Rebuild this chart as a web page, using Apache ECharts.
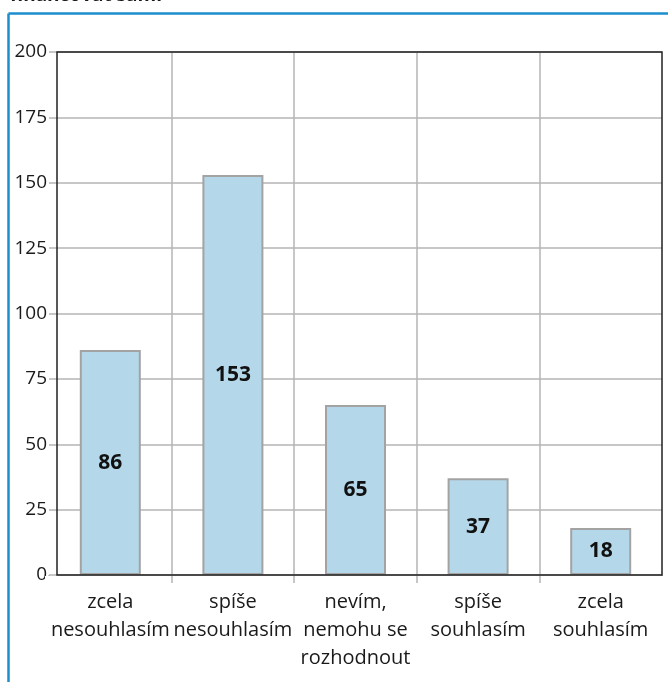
<!DOCTYPE html>
<html>
<head>
<meta charset="utf-8">
<script src="https://cdn.jsdelivr.net/npm/echarts@6/dist/echarts.min.js"></script>
<style>
html,body{margin:0;padding:0;background:#fff;}
#chart{width:668px;height:682px;}
</style>
</head>
<body>
<div id="chart"></div>
<script>
var categories = ['zcela\nnesouhlasím', 'spíše\nnesouhlasím', 'nevím,\nnemohu se\nrozhodnout', 'spíše\nsouhlasím', 'zcela\nsouhlasím'];
var values = [86, 153, 65, 37, 18];
var yTicks = [0, 25, 50, 75, 100, 125, 150, 175, 200];
var titleText = 'financovat sami';

var FONT = '"Open Sans", "Noto Sans", sans-serif';
var gridLeft = 49, gridRight = 6, gridTop = 52, gridBottom = 107;
var frameLeft = 57;
var frameRight = 668 - gridRight;
var frameBottom = 682 - gridBottom;

var chart = echarts.init(document.getElementById('chart'));
var option = {
  animation: false,
  backgroundColor: '#ffffff',
  grid: { left: gridLeft, right: gridRight, top: gridTop, bottom: gridBottom, containLabel: false },
  xAxis: {
    type: 'category',
    data: categories,
    boundaryGap: true,
    axisLine: { show: false },
    axisTick: { show: true, length: 8, lineStyle: { color: '#b5b5b5', width: 1.5 } },
    splitLine: { show: true, showMinLine: false, showMaxLine: false, lineStyle: { color: '#b5b5b5', width: 1.5 } },
    axisLabel: { fontFamily: FONT, fontSize: 20, lineHeight: 28, color: '#1a1a1a', margin: 13, interval: 0 }
  },
  yAxis: {
    type: 'value',
    min: yTicks[0],
    max: yTicks[yTicks.length - 1],
    interval: 25,
    axisLine: { show: false },
    axisTick: { show: false },
    splitLine: { show: true, lineStyle: { color: '#b5b5b5', width: 1.5 } },
    axisLabel: { fontFamily: FONT, fontSize: 19, color: '#1a1a1a', margin: 2 }
  },
  series: [{
    type: 'bar',
    data: values,
    barWidth: 61,
    itemStyle: { color: '#b4d8e9', borderColor: '#a3a3a3', borderWidth: 2 },
    label: {
      show: true,
      position: 'inside',
      fontFamily: FONT,
      fontSize: 21,
      fontWeight: 'bold',
      color: '#111111'
    },
    z: 3
  }],
  graphic: [
    // hide the outer end ticks of the category axis (reference has none there)
    { type: 'rect', shape: { x: gridLeft - 4, y: frameBottom + 1, width: frameLeft - gridLeft + 2, height: 10 }, style: { fill: '#ffffff' }, z: 9, silent: true },
    { type: 'rect', shape: { x: frameRight - 3, y: frameBottom + 1, width: gridRight + 6, height: 10 }, style: { fill: '#ffffff' }, z: 9, silent: true },
    { type: 'rect', shape: { x: frameLeft, y: gridTop, width: frameRight - frameLeft, height: frameBottom - gridTop },
      style: { fill: 'none', stroke: '#222222', lineWidth: 1.5 }, z: 10, silent: true },
    { type: 'line', shape: { x1: 8.5, y1: 13.5, x2: 668, y2: 13.5 }, style: { stroke: '#1b8fcc', lineWidth: 2.5 }, z: 10 },
    { type: 'line', shape: { x1: 8.5, y1: 13.5, x2: 8.5, y2: 682 }, style: { stroke: '#1b8fcc', lineWidth: 2.5 }, z: 10 },
    { type: 'text', x: 10, y: 5, style: { text: titleText, font: 'bold 19px ' + FONT, fill: '#1a1a1a', verticalAlign: 'bottom' }, z: 10 }
  ]
};
chart.setOption(option);
</script>
</body>
</html>
